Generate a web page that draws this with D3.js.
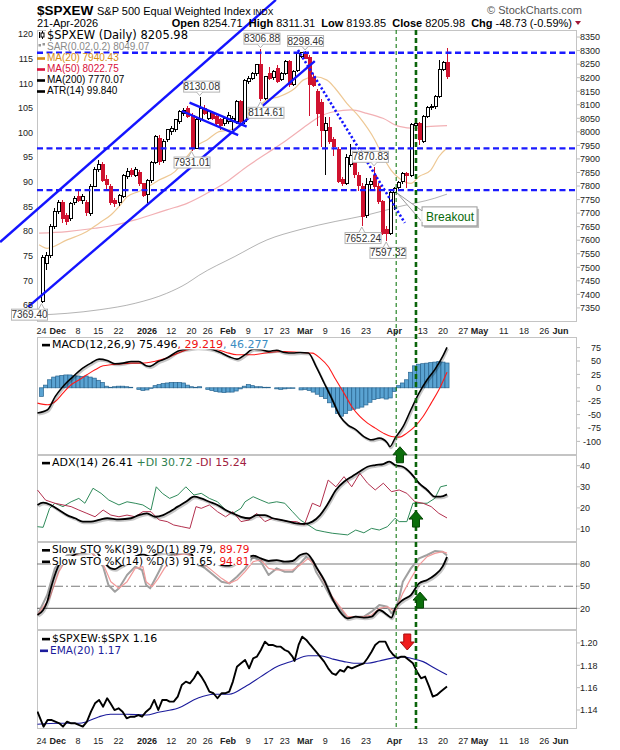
<!DOCTYPE html>
<html><head><meta charset="utf-8">
<script src="https://cdn.jsdelivr.net/npm/d3@7/dist/d3.min.js"></script>
<style>body{margin:0;background:#fff}svg text{font-family:"Liberation Sans",Arial,sans-serif}</style>
</head><body><svg id="c" width="620" height="750"></svg>
<script>
// ---------------- DATA ----------------
// trading days shown (day number 0 = 24-Nov-2025)
const dates = ["2025-11-24","2025-11-25","2025-11-26","2025-11-28",
"2025-12-01","2025-12-02","2025-12-03","2025-12-04","2025-12-05","2025-12-08","2025-12-09","2025-12-10","2025-12-11","2025-12-12",
"2025-12-15","2025-12-16","2025-12-17","2025-12-18","2025-12-19","2025-12-22","2025-12-23","2025-12-24","2025-12-26","2025-12-29","2025-12-30","2025-12-31",
"2026-01-02","2026-01-05","2026-01-06","2026-01-07","2026-01-08","2026-01-09","2026-01-12","2026-01-13","2026-01-14","2026-01-15","2026-01-16",
"2026-01-20","2026-01-21","2026-01-22","2026-01-23","2026-01-26","2026-01-27","2026-01-28","2026-01-29","2026-01-30",
"2026-02-02","2026-02-03","2026-02-04","2026-02-05","2026-02-06","2026-02-09","2026-02-10","2026-02-11","2026-02-12","2026-02-13",
"2026-02-17","2026-02-18","2026-02-19","2026-02-20","2026-02-23","2026-02-24","2026-02-25","2026-02-26","2026-02-27",
"2026-03-02","2026-03-03","2026-03-04","2026-03-05","2026-03-06","2026-03-09","2026-03-10","2026-03-11","2026-03-12","2026-03-13",
"2026-03-16","2026-03-17","2026-03-18","2026-03-19","2026-03-20","2026-03-23","2026-03-24","2026-03-25","2026-03-26","2026-03-27","2026-03-30","2026-03-31",
"2026-04-01","2026-04-02","2026-04-06","2026-04-07","2026-04-08","2026-04-09","2026-04-10","2026-04-13","2026-04-14","2026-04-15","2026-04-16","2026-04-17","2026-04-20","2026-04-21"];

const open = [7375,7515,7545,7650,
7705,7740,7690,7680,7738,7760,7745,7740,7700,7800,7860,7880,7825,7800,7745,7740,7762,7835,7858,7840,7850,7808,
7770,7820,7885,7976,7895,7970,8000,8007,8037,8068,8087,8062,7940,8044,8087,8050,8068,8056,8044,8031,
8037,8040,8037,8111,8037,8185,8197,8215,8247,8124,8216,8200,8234,8195,8216,8259,8173,8228,8280,
8292,8275,8200,8150,8110,8005,8015,7970,7935,7825,7810,7880,7915,7840,7800,7690,7805,7840,7800,7742,7640,7625,
7775,7795,7815,7846,7838,8022,8030,7966,8056,8090,8094,8130,8232,8254.71];
const high = [7545,7558,7660,7720,
7748,7750,7700,7740,7765,7790,7772,7748,7808,7870,7895,7890,7840,7808,7755,7772,7845,7865,7865,7870,7858,7812,
7825,7892,7990,7988,7972,8012,8020,8048,8080,8088,8095,8068,8050,8130.08,8098,8080,8078,8062,8050,8056,
8074,8058,8118,8116,8196,8205,8222,8252,8306.88,8206,8240,8228,8245,8222,8266,8264,8228,8292,8294,
8298.46,8282,8215,8160,8120,8055,8055,7980,7945,7835,7920,7955,7925,7850,7812,7830,7830,7870.83,7810,7748,7652,7782,
7796,7818,7852,7852,8032,8036,8036,8062,8096,8102,8136,8266,8262,8311.31];
const low = [7369.40,7490,7535,7640,
7695,7665,7655,7672,7730,7740,7732,7690,7690,7795,7850,7815,7790,7730,7722,7725,7755,7825,7835,7835,7800,7760,
7738,7812,7880,7878,7885,7962,7990,8000,8030,8060,8050,7931.01,7935,8035,8062,8045,8045,8025,8007,8020,
8030,8007,8030,8032,8030,8178,8190,8208,8114.61,8116,8190,8192,8180,8188,8210,8165,8168,8222,8272,
8268,8060,8165,8020,7945,7842,7955,7910,7810,7800,7802,7870,7830,7780,7652.24,7682,7790,7790,7735,7620,7597.32,7620,
7712,7780,7806,7792,7835,8010,7952,7960,8050,8080,8086,8126,8224,8193.85];
const close = [7535,7545,7650,7705,
7738,7680,7668,7736,7755,7745,7762,7702,7800,7862,7878,7822,7805,7740,7735,7765,7838,7852,7842,7862,7808,7765,
7820,7885,7982,7890,7965,8007,8013,8044,8074,8080,8056,7942,8044,8088,8068,8074,8050,8031,8025,8050,
8062,8050,8111,8037,8191,8197,8215,8247,8122,8204,8197,8222,8185,8215,8259,8173,8222,8288,8292,
8272,8175,8172,8068,8005,8030,7965,7945,7818,7810,7905,7912,7842,7802,7688,7805,7815,7800,7742,7626,7625,7775,
7790,7812,7846,7838,8026,8032,7972,8056,8090,8094,8130,8232,8254.71,8205.98];

// moving averages: [trading day, value]
const ma20 = [[-0.6,7583],[1.4,7570],[6.3,7601],[11.2,7632],[14.2,7663],[17.1,7693],[19.1,7724],[21.1,7760],[24,7780],[27,7804],[29,7822],[32.9,7853],[35.9,7909],[37.9,7945],[40.8,7970],[43.8,8001],[46.7,8008],[48.7,8019],[52.7,8081],[55.6,8118],[58.6,8130],[62.5,8161],[64.5,8191],[67.4,8204],[70.4,8191],[72.4,8161],[75.3,8105],[78.3,8056],[82.2,7970],[84.2,7909],[86.2,7859],[88.2,7829],[91.1,7810],[93.1,7835],[96,7859],[98,7909],[100,7940.43]];
const ma50 = [[-0.6,7626],[6.3,7632],[13.2,7644],[18.1,7656],[23.1,7675],[27,7693],[30.9,7712],[35.9,7736],[40.8,7773],[45.7,7816],[50.7,7872],[55.6,7921],[60.5,7970],[65.5,8025],[68.4,8055],[72.4,8075],[76.3,8081],[80.3,8068],[84.2,8050],[88.2,8020],[92.1,8013],[95.1,8019],[100,8022.75]];
const ma200 = [[-0.6,7324],[6.3,7330],[14.2,7343],[23.1,7367],[30.9,7404],[35.9,7441],[38.8,7470],[47.7,7540],[55.6,7601],[63.5,7638],[68.4,7656],[72.4,7669],[80.3,7693],[88.2,7724],[97,7755],[100,7770.07]];

// horizontal support / resistance levels
const levels = [8292, 7939, 7785];
// trend lines: [[day, price],[day, price]]
const channelUpper = [[-10.2,7593],[57.8,8487]];
const channelLower = [[-3.3,7354],[67.4,8261]];
const flagUpper = [[36.5,8108],[50.6,8019]];
const flagLower = [[34.6,8077],[48.5,7988]];
const downTrend = [[63.25,8302],[89.6,7664]];
// marked vertical days
const markDays = [87.47, 92.35];
// labelled highs and lows: day, price, side, label shift
const peakLabels = [[0,7369.40,"low",-12.5],[37,7931.01,"low",0],[39,8130.08,"high",1.5],[54,8306.88,"high",1],[54,8114.61,"low",5],[65,8298.46,"high",0],[79,7652.24,"low",0.7],[82,7870.83,"high",-4],[85,7597.32,"low",1.3]];

// MACD
const macdLine = [[-1,-47],[1.5,-41],[3.4,-16],[5.3,2.5],[7.8,21],[9.7,34],[12.2,46],[14.2,53.5],[16.2,51],[18.1,45],[20.1,46],[22.1,49],[24,49],[25.8,41],[26.8,40],[28.8,49],[30.8,55],[33.6,68],[36.4,73],[38.4,75],[40.4,74],[42.4,71],[44.4,65],[46.3,58],[48.2,53.5],[50.2,62],[52.2,72],[54.1,71],[56,68],[58,70],[60,66],[61.9,65],[63.8,66],[65.8,65],[67.7,40],[69.7,9],[71.7,-22],[73.6,-53],[75.5,-69],[77.5,-78],[79.5,-91],[81.4,-97],[83.3,-94],[85.3,-103],[85.9,-110],[87.2,-94],[89.2,-72],[91.1,-41],[93.1,-10],[95.1,15],[97,34],[98.9,58],[100,75.496]];
const macdSignal = [[-1,-28.6],[1.5,-31.7],[3.4,-25.5],[5.3,-9.9],[7.3,5.6],[9.3,14.9],[11.2,24.3],[13.2,33.6],[15.2,41],[17.1,43],[19.1,44.2],[22,46],[24.8,46],[27.8,49.2],[30.8,55.4],[33.6,64.7],[36.6,72.2],[39.4,74],[42.4,72.8],[45.4,66.5],[48.2,61.6],[52.2,61.6],[56,65.9],[60,67.8],[63.8,65.9],[66.8,64.7],[68.7,55.4],[70.7,39.8],[72.6,14.9],[74.6,-9.9],[76.5,-34.8],[78.5,-53.5],[80.4,-65.9],[82.3,-75.2],[84.3,-84.6],[86.3,-90.8],[88.3,-92],[90.1,-84.6],[92.1,-72.1],[94.1,-53.5],[96.1,-28.6],[98,-3.7],[100,29.219]];
const macdHist = [-16,5,15,20,22,23,24,24,23,22,21,22,20,18,14,10,3,1,2,3,3,2,1,0,-3,-5,-4,-1,4,6,8,9,10,10,10,9,5,2,1,2,0,-3,-5,-7,-8,-9,-8,-8,-6,-2,3,6,4,2,2,1,1,0,-2,-3,-2,-1,-1,0,
-4,-3,-5,-8,-12,-16,-20,-28,-36,-48,-53,-48,-42,-40,-38,-36,-32,-27,-22,-20,-19,-21,-19,-7,4,9,15,29,41,44,45,46,47,48,49,48,46.277];

// ADX
const adx = [[-1,21.4],[0.4,22.5],[2.3,21.4],[4.3,19],[6.3,16.6],[8.3,15.1],[10.2,13.5],[12.2,13.5],[14.2,14.3],[16.2,15.1],[19.1,14.6],[22.1,15.1],[24,16.6],[26,17.4],[28,15.8],[30,16.6],[31.6,18.2],[33.6,20.6],[35.6,22.9],[37.6,25.3],[39.4,24.5],[41.4,22.9],[43.4,21.4],[45.4,19],[47.2,17.4],[49.2,15.8],[51.2,15.1],[53.1,16.6],[55.1,16.6],[57,15.1],[59,14.3],[61,13.5],[62.9,12.7],[64.8,12.4],[66.8,13.5],[68.7,16.6],[70.7,22.2],[72.6,28.5],[74.6,32.4],[76.5,34.8],[78.5,37.2],[80.4,39.5],[82.3,40.3],[84.3,40.8],[85.8,41.9],[87.2,40.3],[89.1,39.5],[91.1,36.4],[93.1,31.7],[95.1,28.5],[97,25.3],[98.4,25.3],[100,26.41]];
const plusDI = [[-1,11.1],[0.4,10.8],[2,19.8],[3.3,22.2],[5.3,20.6],[7.3,22.9],[9.2,24.5],[10.7,22.2],[12.7,29.3],[14.7,26.9],[16.6,23.7],[19.1,21.4],[21.1,22.9],[23.1,22.2],[25,21.4],[27,19],[28.3,30],[29.8,26.9],[31.6,24.5],[33.6,26.1],[35.6,30],[37.6,26.1],[39.4,26.9],[41.4,24.5],[43.4,22.9],[45.4,19],[47.2,17.4],[49.2,19.8],[50.2,22.9],[52.2,25.3],[54.1,23.7],[56,22.2],[58,22.9],[60,22.2],[61.9,18.2],[63.8,14.3],[65.8,11.9],[67.7,9.5],[69.7,8.7],[71.7,8],[73.6,7.6],[75.5,7.2],[77.5,9.5],[79.5,8.2],[81.4,10.3],[83.3,9.5],[85.3,11.1],[87.2,15.1],[88.2,13.5],[90.1,13.5],[91.6,22.2],[93.1,22.2],[95.1,22.2],[97,24.5],[98.4,30],[100,30.72]];
const minusDI = [[-1,28.5],[1,23.7],[3.3,22.2],[5.3,21.4],[7.3,20.6],[9.2,19],[11.2,17.4],[13.2,15.8],[15.2,19],[17.1,16.6],[19.1,15.8],[21.1,16.6],[23.1,15.8],[25,18.2],[27,18.2],[29,14.3],[31,13.5],[32.6,11.9],[34.6,11.1],[36.6,10.3],[38.1,20.6],[39.4,19.8],[41.4,21.4],[43.4,18.2],[45.4,15.8],[47.2,18.2],[49.2,13.5],[51.2,14.3],[53.1,17.4],[55.1,13.5],[57,15.1],[59,14.3],[61,13.5],[62.9,13.5],[64.8,11.9],[66.8,22.2],[68.7,20.6],[70.7,33.2],[72.6,30],[74.6,34.8],[76.5,30],[78.5,36.4],[80.4,31.7],[82.3,28.5],[84.3,31.7],[86.3,27.7],[88.2,28.5],[90.1,26.9],[92.1,22.9],[94.1,22.2],[96.1,20.6],[98,17.4],[100,15.24]];

// Slow stochastics
const stoK39 = [[-1,11],[0.4,17.8],[1.4,29],[2.3,47.1],[3.3,65.1],[4.3,78.6],[5.3,83],[7.3,90],[9.2,95],[11.2,96],[13.2,98],[14.2,92],[16.2,78],[17.1,74],[18.1,73],[19.1,76],[21.1,82],[23.1,90],[25,93],[27,90],[29,95],[31,96],[32.9,95],[34.9,97],[36.9,94],[38.5,80],[39.8,79],[41.8,86],[44.4,78.6],[46.3,77.7],[48.2,83.2],[50.2,85.4],[52.2,91.3],[54.1,87.6],[56,84.1],[58,85.4],[60,83.2],[61.9,84.1],[63.8,92.2],[65.3,94.4],[66.8,85.4],[67.7,76.4],[69.7,58.3],[71.7,33.5],[73.6,15.5],[75.5,6.5],[77.5,8.7],[79.5,7.4],[81.4,8.7],[83.3,17.8],[85.3,11],[86.3,7.4],[87.2,20],[89.1,31.3],[91.1,38],[93.1,53.8],[95.1,58.3],[97,65.1],[98.9,76.4],[100,89.79]];
const stoK14 = [[-1,11],[1.4,38],[3.3,74.1],[4.3,80.9],[6.3,92],[9.2,95],[12.2,97],[15.2,76.4],[16.5,51.6],[18.1,42.5],[19.1,47.1],[21.1,65.1],[23.1,76.4],[24.8,71.9],[25.8,51.6],[26.8,47.1],[28.3,62.8],[29.8,78.6],[31,90],[33.9,96],[36.9,92],[38.5,80.9],[40.4,74.1],[42.4,65.1],[44.4,56.1],[46.3,53.8],[48.2,62.8],[50.2,74.1],[52.2,89.9],[54.1,83.2],[56,65.1],[58,74.1],[60,69.6],[61.9,69.6],[63.8,80.9],[65.3,89.9],[66.8,83.2],[67.7,69.6],[69.7,51.6],[71.7,31.3],[73.6,20],[75.5,6.5],[77.5,8.7],[79.5,8.7],[81.4,15.5],[83.3,24.5],[85.3,22.2],[86.3,13.3],[87.2,17.8],[88.2,33.5],[89.1,56.1],[91.1,74.1],[93.1,87.6],[95.1,92.2],[97,97.6],[98.9,96.7],[100,91.65]];
const stoD3 = [[-1,11],[2,33.5],[4.3,69.6],[6.3,88],[9.2,94],[12.2,96],[15.2,80],[17.1,56.1],[19.1,47.1],[21.1,56.1],[23.1,74.1],[25,76.4],[25.8,56.1],[27.3,49.3],[28.8,60.6],[30.3,74.1],[32.9,92],[35.9,94],[38.8,85],[41.4,74.1],[44.4,60.6],[46.3,53.8],[48.2,58.3],[50.2,69.6],[52.2,83.2],[54.1,85.4],[56,74.1],[58,71.9],[60,71.9],[61.9,71.9],[63.8,78.6],[65.8,87.6],[67.7,76.4],[69.7,56.1],[71.7,35.8],[73.6,22.2],[75.5,8.7],[77.5,8.7],[79.5,8.7],[81.4,11],[83.3,20],[85.3,22.2],[87.2,15.5],[89.1,40.3],[91.1,60.6],[93.1,78.6],[95.1,89.9],[97,94.4],[98.9,96.7],[100,94.81]];
const stoLevels = [80, 50, 20];

// $SPXEW:$SPX ratio and its EMA(20)
const ratio = [[-1,1.1385],[-0.5,1.134],[0.5,1.1251],[1.5,1.1311],[2.4,1.1311],[3.4,1.1296],[4.4,1.1281],[5.3,1.1251],[6.3,1.1296],[7.3,1.1281],[8.3,1.1281],[9.2,1.1266],[10.2,1.1251],[11.2,1.1296],[12.2,1.1385],[13.2,1.146],[14.2,1.149],[15.2,1.143],[16.2,1.1505],[17,1.146],[18,1.14],[19,1.1415],[20,1.1385],[21,1.1326],[22,1.134],[23,1.134],[23.9,1.1355],[24.8,1.134],[25.8,1.1385],[26.8,1.1415],[27.8,1.149],[28.8,1.14],[29.8,1.149],[30.8,1.149],[31.6,1.1475],[32.6,1.1475],[33.6,1.152],[34.6,1.1624],[35.6,1.1654],[36.6,1.1639],[37.6,1.1684],[38.5,1.1743],[39.4,1.1699],[40.4,1.1639],[41.4,1.1564],[42.4,1.155],[43.4,1.1505],[44.4,1.155],[45.4,1.155],[46.3,1.1564],[47.2,1.1654],[48.2,1.1788],[49.2,1.1818],[50.2,1.1848],[51.2,1.1773],[52.2,1.1863],[53.1,1.1877],[54.1,1.1937],[55.1,1.2012],[56,1.1982],[57,1.1982],[58,1.1967],[59,1.1967],[60,1.1937],[60.9,1.1922],[61.9,1.1877],[62.4,1.1839],[63.4,1.1982],[64.3,1.2056],[65.3,1.2027],[66.3,1.1982],[67.7,1.1922],[68.7,1.1877],[69.7,1.1833],[70.7,1.1773],[71.7,1.1728],[72.6,1.1714],[73.6,1.1758],[74.6,1.1743],[75.5,1.1788],[76.5,1.1773],[77.5,1.1788],[78.5,1.1803],[79.5,1.1818],[80.4,1.1863],[81.4,1.1922],[82.3,1.1982],[83.3,1.2012],[84.8,1.2012],[85.8,1.1937],[86.8,1.1892],[87.8,1.1863],[88.7,1.1877],[89.6,1.1877],[90.6,1.1848],[91.6,1.1818],[92.6,1.1743],[93.6,1.1684],[94.6,1.1699],[95.6,1.1609],[96.5,1.152],[97.5,1.1535],[98.4,1.1564],[100,1.161]];
const ratioEma = [[-1,1.1272],[4.4,1.1281],[9.2,1.1281],[11.2,1.1296],[14.2,1.134],[17,1.1362],[21,1.1362],[25.8,1.1355],[28.8,1.138],[33.6,1.1415],[38.5,1.1505],[42.4,1.1541],[46.3,1.1541],[50.2,1.1609],[54.1,1.1699],[58,1.1788],[61.9,1.1839],[65.8,1.1886],[68.7,1.1886],[71.7,1.1857],[74.6,1.1833],[77.5,1.1818],[80.4,1.1818],[83.3,1.1839],[87.2,1.1869],[89.1,1.1877],[91.1,1.1863],[94.1,1.1833],[97,1.1773],[100,1.1715]];

// signal arrows: [day, value at arrow tip, direction]
const macdArrow = [88.4, -110, "up"];
const adxArrow = [92.35, 18.5, "up"];
const stoArrow = [93.35, 42, "up"];
const ratioArrow = [90.2, 1.1937, "down"];
const breakout = {day: 87.7, price: 7774, boxDay: 93.85, boxPrice: 7723, text: "Breakout"};

// axis ticks
const tickDays = [0,4,9,14,19,26,32,37,41,46,51,56,60,65,70,75,80,87,94,99,104,108,114,119,124,128];
const tickText = ["24","Dec","8","15","22","2026","12","20","26","Feb","9","17","23","Mar","9","16","23","Apr","13","20","27","May","11","18","26","Jun"];
const tickBold = ["Dec","2026","Feb","Mar","Apr","May","Jun"];
const priceTicks = d3.range(7350, 8351, 50);
const leftTicks = d3.range(65, 121, 5);
const macdTicks = [-100,-75,-50,-25,0,25,50,75];
const adxTicks = [10,20,30,40];
const stoTicks = [20,50,80];
const ratioTicks = [1.14,1.16,1.18,1.20];

// ---------------- DRAW ----------------
const svg = d3.select("#c");
const L = 37, R = 577;
const X = d3.scaleLinear().domain([-1.11,132.06]).range([L,R]);
const P = {main:[30,322], macd:[337,455], adx:[455,542], sto:[542,630], ratio:[630,729]};
const yP = d3.scaleLinear().domain([7298,8376]).range([322,30]);
const yL = d3.scaleLinear().domain([61.55,120.8]).range([322,30]);
const yM = d3.scaleLinear().domain([-125.4,94.8]).range([455,337]);
const yA = d3.scaleLinear().domain([3.84,45.07]).range([542,455]);
const yS = d3.scaleLinear().domain([-9.3,109.8]).range([630,542]);
const yR = d3.scaleLinear().domain([1.123,1.2116]).range([729,630]);
const DV = "'DejaVu Sans',Verdana,sans-serif";

const defs = svg.append("defs");
Object.entries(P).forEach(([k,[t,b]])=>{
  defs.append("clipPath").attr("id","clip-"+k).append("rect").attr("x",L).attr("y",t).attr("width",R-L).attr("height",b-t);
});
Object.values(P).forEach(([t,b])=>{
  svg.append("rect").attr("x",L+0.5).attr("y",t+0.5).attr("width",R-L-1).attr("height",b-t-1)
    .attr("fill","#fff").attr("stroke","#c4c4c4");
});

function line(g, data, ys, color, w, curve){
  const gen = d3.line().x(d=>X(d[0])).y(d=>ys(d[1])).curve(curve||d3.curveLinear);
  return g.append("path").attr("d",gen(data)).attr("fill","none").attr("stroke",color).attr("stroke-width",w).attr("stroke-linejoin","round");
}
function shadowLine(g, data, ys, color, w, curve){
  const sh = g.append("g").attr("transform","translate(1,1.5)");
  line(sh, data, ys, "#000", w+0.5, curve).attr("opacity",0.22);
  return line(g, data, ys, color, w, curve);
}

// ---- main panel ----
const gm = svg.append("g").attr("clip-path","url(#clip-main)");
line(gm, ma200, yP, "#b4b4b4", 1, d3.curveMonotoneX);
line(gm, ma50, yP, "#f2b0b4", 1.2, d3.curveMonotoneX);
line(gm, ma20, yP, "#eec894", 1.2, d3.curveMonotoneX);

levels.forEach(v=>{
  svg.append("line").attr("x1",L).attr("x2",R).attr("y1",yP(v)).attr("y2",yP(v))
    .attr("stroke","#1a1aff").attr("stroke-width",2.4).attr("stroke-dasharray","6,3.5");
});

const candles = gm.append("g").attr("shape-rendering","crispEdges");
dates.forEach((d,i)=>{
  const x = Math.round(X(i));
  const up = close[i] >= open[i];
  const col = up ? "#000" : "#d0122f";
  candles.append("line").attr("x1",x+0.5).attr("x2",x+0.5).attr("y1",yP(high[i])).attr("y2",yP(low[i])).attr("stroke",col);
  const top = yP(Math.max(open[i],close[i])), bot = yP(Math.min(open[i],close[i]));
  candles.append("rect").attr("x",x-1).attr("y",top).attr("width",3).attr("height",Math.max(1,bot-top))
    .attr("fill", up ? "#fff" : "#d0122f").attr("stroke",col).attr("stroke-width",1);
});

const tl = svg.append("g");
[channelUpper, channelLower, flagUpper, flagLower].forEach(s=>{
  tl.append("line").attr("x1",X(s[0][0])).attr("y1",yP(s[0][1])).attr("x2",X(s[1][0])).attr("y2",yP(s[1][1]))
    .attr("stroke","#1414ff").attr("stroke-width",2.4);
});
tl.append("line").attr("x1",X(downTrend[0][0])).attr("y1",yP(downTrend[0][1])).attr("x2",X(downTrend[1][0])).attr("y2",yP(downTrend[1][1]))
  .attr("stroke","#1414ff").attr("stroke-width",2.6).attr("stroke-dasharray","2.2,2.2");

{
  const px = X(breakout.day), py = yP(breakout.price);
  const bx = X(breakout.boxDay), by = yP(breakout.boxPrice);
  const bw = 55, bh = 19;
  svg.append("rect").attr("x",bx+2).attr("y",by+2).attr("width",bw).attr("height",bh).attr("fill","#bbb");
  svg.append("path").attr("d",`M${bx},${by+4}L${px},${py}L${bx},${by+bh-4}`).attr("fill","#fff").attr("stroke","#9a9a9a").attr("stroke-width",1);
  svg.append("rect").attr("x",bx).attr("y",by).attr("width",bw).attr("height",bh).attr("fill","#fff").attr("stroke","#9a9a9a");
  svg.append("line").attr("x1",bx).attr("x2",bx).attr("y1",by+4).attr("y2",by+bh-4).attr("stroke","#fff").attr("stroke-width",1.5);
  svg.append("text").attr("x",bx+4).attr("y",by+14).attr("font-size",12).attr("fill","#0a6a0a").text(breakout.text);
}

peakLabels.forEach(([day,price,side,dx])=>{
  const cx = X(day), cy = yP(price), bw = 36, bh = 11;
  const x0 = cx + dx - bw/2;
  const y0 = side==="high" ? cy - 5 - bh : cy + 6;
  const g = svg.append("g");
  g.append("rect").attr("x",x0+0.5).attr("y",y0+0.5).attr("width",bw).attr("height",bh).attr("fill","#fff").attr("stroke","#b4b4b4");
  const ey = side==="high" ? y0+bh+0.5 : y0+0.5, ty = side==="high" ? cy-1 : cy+1;
  g.append("path").attr("d",`M${cx-3},${ey}L${cx},${ty}L${cx+3},${ey}`).attr("fill","#fff").attr("stroke","#b4b4b4");
  g.append("text").attr("x",x0+bw/2+0.5).attr("y",y0+9.5).attr("text-anchor","middle").attr("font-size",10).attr("fill","#333").text(price.toFixed(2));
});

// ---- MACD ----
const gM = svg.append("g").attr("clip-path","url(#clip-macd)");
macdHist.forEach((v,i)=>{
  const x = X(i);
  gM.append("rect").attr("x",x-2).attr("width",4.05).attr("y",Math.min(yM(0),yM(v))).attr("height",Math.abs(yM(v)-yM(0)))
    .attr("fill","#5aa3d2").attr("stroke","#28648f").attr("stroke-width",0.7);
});
line(gM, macdSignal, yM, "#ff1a1a", 1.1, d3.curveMonotoneX);
shadowLine(gM, macdLine, yM, "#000", 1.6, d3.curveMonotoneX);

// ---- ADX ----
const gA = svg.append("g").attr("clip-path","url(#clip-adx)");
line(gA, plusDI, yA, "#2f8a5a", 1);
line(gA, minusDI, yA, "#b3304e", 1);
shadowLine(gA, adx, yA, "#000", 1.8, d3.curveMonotoneX);

// ---- STO ----
const gS = svg.append("g").attr("clip-path","url(#clip-sto)");
stoLevels.forEach(v=>{
  gS.append("line").attr("x1",L).attr("x2",R).attr("y1",yS(v)).attr("y2",yS(v)).attr("stroke","#7a7a7a").attr("stroke-width",1.1)
    .attr("stroke-dasharray", v===50 ? "9,3,2,3" : null);
});
line(gS, stoK14, yS, "#a0a0a0", 2);
line(gS, stoD3, yS, "#f29a9a", 1.2);
shadowLine(gS, stoK39, yS, "#000", 1.8, d3.curveMonotoneX);

// ---- ratio ----
const gR = svg.append("g").attr("clip-path","url(#clip-ratio)");
line(gR, ratioEma, yR, "#1c1c9c", 1.1, d3.curveMonotoneX);
line(gR, ratio, yR, "#000", 1.9);

markDays.forEach((d,k)=>{
  svg.append("line").attr("x1",X(d)).attr("x2",X(d)).attr("y1",P.main[0]).attr("y2",P.ratio[1])
    .attr("stroke", k===0 ? "#157a15" : "#0b650b").attr("stroke-width", k===0 ? 1.1 : 2.6)
    .attr("stroke-dasharray", k===0 ? "4,3" : "5,3");
});

function arrow(day, tip, dir, ys, fill, stroke){
  const cx = X(day), ty = ys(tip), s = dir==="up" ? 1 : -1;
  const pts = [[0,0],[7,8],[3.5,8],[3.5,16],[-3.5,16],[-3.5,8],[-7,8]].map(p=>[cx+p[0], ty+s*p[1]]);
  svg.append("path").attr("d","M"+pts.map(p=>p.join(",")).join("L")+"Z").attr("fill",fill).attr("stroke",stroke).attr("stroke-width",1);
}
arrow(macdArrow[0], macdArrow[1], macdArrow[2], yM, "#0b6e0b", "#064806");
arrow(adxArrow[0], adxArrow[1], adxArrow[2], yA, "#0b6e0b", "#064806");
arrow(stoArrow[0], stoArrow[1], stoArrow[2], yS, "#0b6e0b", "#064806");
arrow(ratioArrow[0], ratioArrow[1], ratioArrow[2], yR, "#f01c1c", "#a80c0c");

// ---- legends ----
function legend(x, y, parts, font, size, icon){
  const g = svg.append("g");
  const t = g.append("text").attr("x",x).attr("y",y).attr("font-size",size).style("font-family",font);
  parts.forEach(p=>t.append("tspan").attr("fill",p[1]).text(p[0]));
  const bb = t.node().getBBox();
  g.insert("rect", ()=>t.node()).attr("x",bb.x-1).attr("y",bb.y+1.5).attr("width",bb.width+2).attr("height",bb.height-3).attr("fill","#fff");
  if(icon){ g.append("rect").attr("x",x-10).attr("y",y-size*0.38).attr("width",8).attr("height",2.6).attr("fill",icon); }
  return g;
}
{
  const g = svg.append("g");
  g.append("line").attr("x1",42.5).attr("x2",42.5).attr("y1",31).attr("y2",39).attr("stroke","#000");
  g.append("rect").attr("x",41).attr("y",33).attr("width",3).attr("height",4).attr("fill","#fff").attr("stroke","#000");
  g.append("line").attr("x1",39.5).attr("x2",39.5).attr("y1",32).attr("y2",38).attr("stroke","#000");
  g.append("rect").attr("x",38.5).attr("y",44).attr("width",2.5).attr("height",2.5).attr("fill","#999");
  g.append("rect").attr("x",42.5).attr("y",43).attr("width",2.5).attr("height",2.5).attr("fill","#999");
}
legend(47, 39, [["$SPXEW (Daily) 8205.98","#000"]], DV, 11.5);
legend(47, 50, [["SAR(0.02,0.2) 8049.07","#8a8a8a"]], "'Liberation Sans',Arial", 10);
legend(47, 61, [["MA(20) 7940.43","#d58c14"]], "'Liberation Sans',Arial", 10, "#d58c14");
legend(47, 72, [["MA(50) 8022.75","#d8103a"]], "'Liberation Sans',Arial", 10, "#d8103a");
legend(47, 83, [["MA(200) 7770.07","#000"]], "'Liberation Sans',Arial", 10, "#000");
legend(47, 94, [["ATR(14) 99.840","#000"]], "'Liberation Sans',Arial", 10, "#000");

legend(52, 348, [["MACD(12,26,9) 75.496","#000"],[", 29.219","#f01010"],[", 46.277","#3b8cc2"]], DV, 11, "#000");
legend(52, 466, [["ADX(14) 26.41 ","#000"],["+DI 30.72 ","#2f7f50"],["-DI 15.24","#a02040"]], DV, 11, "#000");
legend(52, 553, [["Slow STO %K(39) %D(1) 89.79, ","#000"],["89.79","#f01010"]], DV, 10.5, "#000");
legend(52, 564.5, [["Slow STO %K(14) %D(3) 91.65, ","#000"],["94.81","#f01010"]], DV, 10.5, "#000");
legend(52, 642, [["$SPXEW:$SPX 1.16","#000"]], DV, 11, "#000");
legend(50, 653.5, [["EMA(20) 1.17","#1c1c9c"]], DV, 10.5, "#1c1c9c");

// ---- axes ----
const ax = svg.append("g").style("font-family",DV).attr("font-size",9).attr("fill","#222");
function rightTicks(ticks, ys, fmt, anchorEnd){
  ticks.forEach(v=>{
    ax.append("line").attr("x1",R).attr("x2",R+3).attr("y1",ys(v)).attr("y2",ys(v)).attr("stroke","#bbb");
    ax.append("text").attr("x",anchorEnd?601:580).attr("y",ys(v)+3.3).attr("text-anchor",anchorEnd?"end":"start").text(fmt(v));
  });
}
rightTicks(priceTicks, yP, d=>d, false);
rightTicks(macdTicks, yM, d=>d, true);
rightTicks(adxTicks, yA, d=>d, false);
rightTicks(stoTicks, yS, d=>d, false);
rightTicks(ratioTicks, yR, d3.format(".2f"), false);
leftTicks.forEach(v=>{
  ax.append("text").attr("x",33).attr("y",yL(v)+3.3).attr("text-anchor","end").text(v);
});
[333.5, 744].forEach(yy=>{
  tickDays.forEach((d,k)=>{
    const t = tickText[k];
    ax.append("text").attr("x",X(d)).attr("y",yy).attr("text-anchor","middle")
      .attr("font-weight", tickBold.includes(t) ? "bold" : null).text(t);
  });
});

// ---- header ----
const hd = svg.append("g");
hd.append("text").attr("x",37).attr("y",15).attr("font-size",13.5).attr("font-weight","bold").text("$SPXEW");
hd.append("text").attr("x",97).attr("y",15).attr("font-size",11).text("S&P 500 Equal Weighted Index");
hd.append("text").attr("x",253).attr("y",15).attr("font-size",8.5).text("INDX");
hd.append("text").attr("x",582).attr("y",14).attr("text-anchor","end").attr("font-size",11).attr("fill","#555").text("\u00A9 StockCharts.com");
hd.append("text").attr("x",37).attr("y",26.5).attr("font-size",11).text("21-Apr-2026");
{
  const t = hd.append("text").attr("x",572).attr("y",26.5).attr("text-anchor","end").attr("font-size",11);
  const parts = [["Open",1],[" 8254.71  ",0],["High",1],[" 8311.31  ",0],["Low",1],[" 8193.85  ",0],["Close",1],[" 8205.98  ",0],["Chg",1],[" -48.73 (-0.59%)",0]];
  parts.forEach(p=>t.append("tspan").attr("font-weight",p[1]?"bold":null).style("white-space","pre").text(p[0]));
  hd.append("path").attr("d","M575,21L581,21L578,25Z").attr("fill","#a01838");
}
</script></body></html>
